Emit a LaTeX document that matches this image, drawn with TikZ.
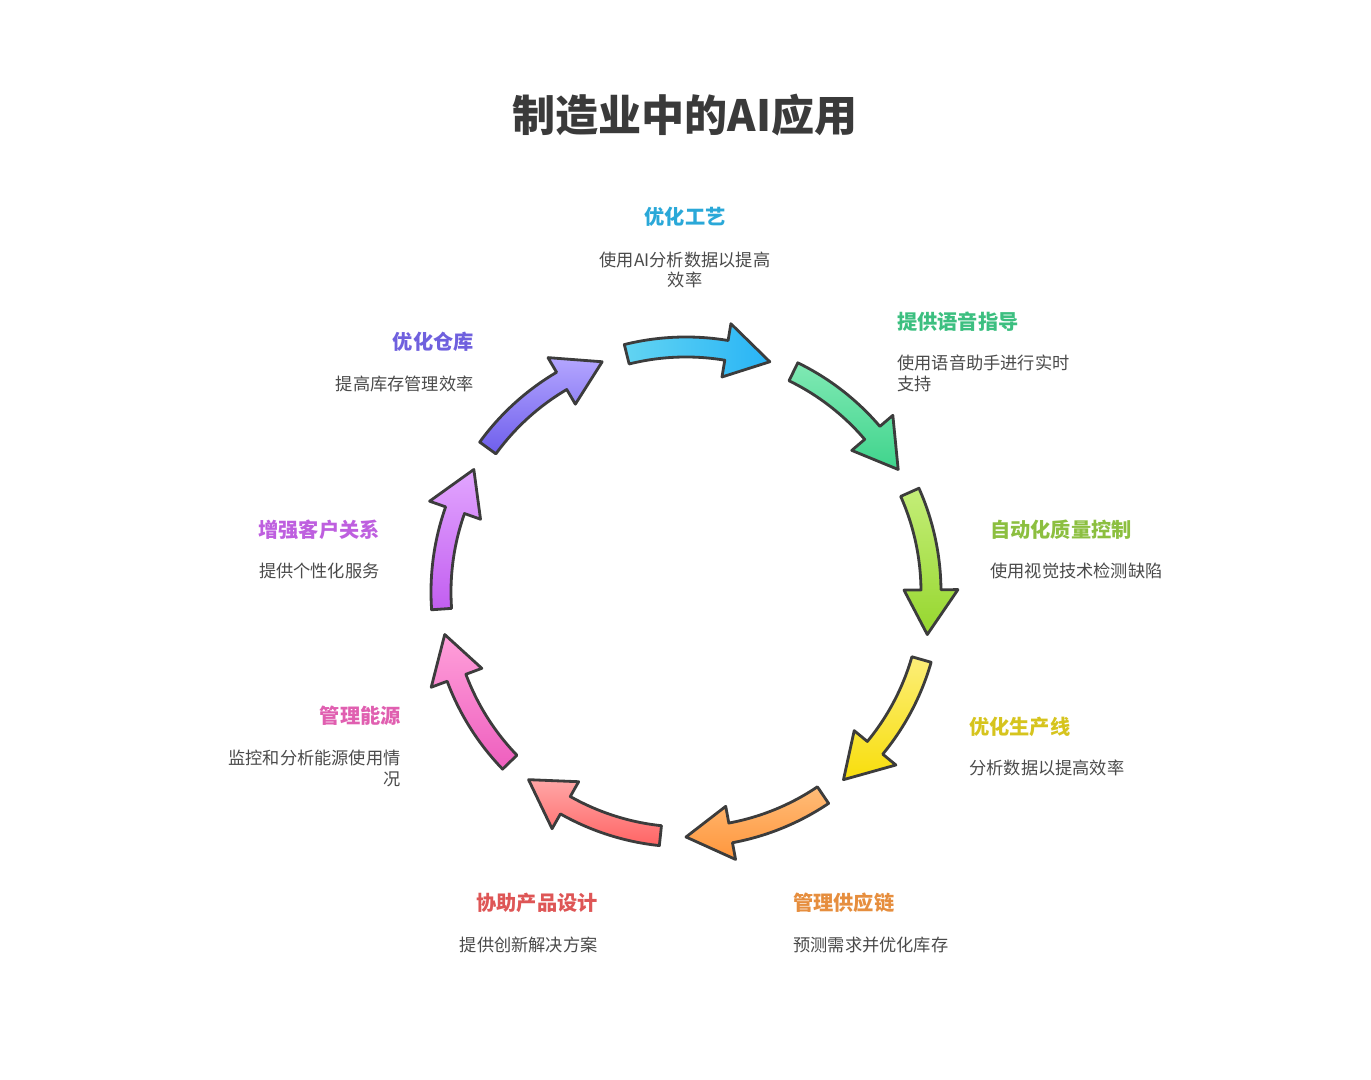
\documentclass[tikz,border=0pt]{standalone}
\usepackage{fontspec}
\setmainfont{Noto Sans CJK SC}
\usetikzlibrary{positioning}

\definecolor{edgegray}{HTML}{3C3C3C}
\definecolor{titlegray}{HTML}{3A3A3A}
\definecolor{descgray}{HTML}{4A4A4A}
\definecolor{procA}{HTML}{62D4F2}\definecolor{procB}{HTML}{28B4F6}\definecolor{procT}{HTML}{2AA8D8}
\definecolor{voiceA}{HTML}{80E9B4}\definecolor{voiceB}{HTML}{3FD48C}\definecolor{voiceT}{HTML}{3CBF80}
\definecolor{qualA}{HTML}{C4EE78}\definecolor{qualB}{HTML}{96D62E}\definecolor{qualT}{HTML}{8CBF40}
\definecolor{lineA}{HTML}{FCEE78}\definecolor{lineB}{HTML}{F8DE0C}\definecolor{lineT}{HTML}{D6C41E}
\definecolor{supA}{HTML}{FFBC78}\definecolor{supB}{HTML}{FF963C}\definecolor{supT}{HTML}{E68E3E}
\definecolor{desA}{HTML}{FFA6A6}\definecolor{desB}{HTML}{FF6464}\definecolor{desT}{HTML}{DE5656}
\definecolor{enA}{HTML}{FFA0DA}\definecolor{enB}{HTML}{EE5EBE}\definecolor{enT}{HTML}{E05FB0}
\definecolor{cusA}{HTML}{E2A6FF}\definecolor{cusB}{HTML}{C25EF0}\definecolor{cusT}{HTML}{BE5FDF}
\definecolor{wareA}{HTML}{B4A6FF}\definecolor{wareB}{HTML}{6E5EEC}\definecolor{wareT}{HTML}{6F60DE}

% one curved arrow of the cycle: #1 middle angle, #2 shading
\newcommand{\cyclearrow}[2]{%
  \draw[arrowshape, #2]
    ({#1+17}:5.1) arc[start angle={#1+17}, end angle={#1-6.5}, radius=5.1]
    -- ({#1-6.5}:5.44) -- ({#1-17}:4.9) -- ({#1-6.5}:4.36) -- ({#1-6.5}:4.7)
    arc[start angle={#1-6.5}, end angle={#1+17}, radius=4.7] -- cycle;}

\begin{document}
\begin{tikzpicture}[
    title/.style={font=\fontsize{24.5}{29}\selectfont\bfseries, text=titlegray, inner sep=0pt},
    head/.style={font=\fontsize{11.5}{14}\selectfont\bfseries, inner sep=0pt},
    desc/.style={font=\fontsize{9.8}{11.9}\selectfont, text=descgray, inner sep=0pt},
    arrowshape/.style={draw=edgegray, line width=1.6pt, line join=round}
  ]
    \useasboundingbox (0,0) rectangle (27.42,21.6);
    \node[title] (title) at (13.70,19.30) {制造业中的AI应用};

    \begin{scope}[shift={(13.72,9.76)}]
      \cyclearrow{87}{left color=procA, right color=procB}
      \cyclearrow{47}{top color=voiceA, bottom color=voiceB}
      \cyclearrow{7}{top color=qualA, bottom color=qualB}
      \cyclearrow{-33}{top color=lineA, bottom color=lineB}
      \cyclearrow{-73}{top color=supA, bottom color=supB}
      \cyclearrow{-113}{top color=desA, bottom color=desB}
      \cyclearrow{-153}{top color=enA, bottom color=enB}
      \cyclearrow{-193}{top color=cusA, bottom color=cusB}
      \cyclearrow{-233}{top color=wareA, bottom color=wareB}
    \end{scope}

    % labels round the cycle
    \node[head, text=procT] (proc) at (13.70,17.26) {优化工艺};
    \node[desc, align=center] (procd) at (13.70,16.20) {使用AI分析数据以提高\\效率};

    \node[head, text=voiceT, anchor=west] (voice) at (17.94,15.16) {提供语音指导};
    \node[desc, align=left, anchor=west] (voiced) at (17.94,14.13) {使用语音助手进行实时\\支持};

    \node[head, text=qualT, anchor=west] (qual) at (19.80,11.00) {自动化质量控制};
    \node[desc, anchor=west] (quald) at (19.80,10.18) {使用视觉技术检测缺陷};

    \node[head, text=lineT, anchor=west] (line) at (19.38,7.06) {优化生产线};
    \node[desc, anchor=west] (lined) at (19.38,6.24) {分析数据以提高效率};

    \node[head, text=supT, anchor=west] (sup) at (15.86,3.54) {管理供应链};
    \node[desc, anchor=west] (supd) at (15.86,2.70) {预测需求并优化库存};

    \node[head, text=desT, anchor=east] (des) at (11.96,3.54) {协助产品设计};
    \node[desc, anchor=east] (desd) at (11.96,2.70) {提供创新解决方案};

    \node[head, text=enT, anchor=east] (en) at (8.02,7.28) {管理能源};
    \node[desc, align=right, anchor=east] (end) at (8.02,6.23) {监控和分析能源使用情\\况};

    \node[head, text=cusT, anchor=east] (cus) at (7.60,11.00) {增强客户关系};
    \node[desc, anchor=east] (cusd) at (7.60,10.18) {提供个性化服务};

    \node[head, text=wareT, anchor=east] (ware) at (9.48,14.76) {优化仓库};
    \node[desc, anchor=east] (wared) at (9.48,13.92) {提高库存管理效率};
  \end{tikzpicture}
\end{document}
